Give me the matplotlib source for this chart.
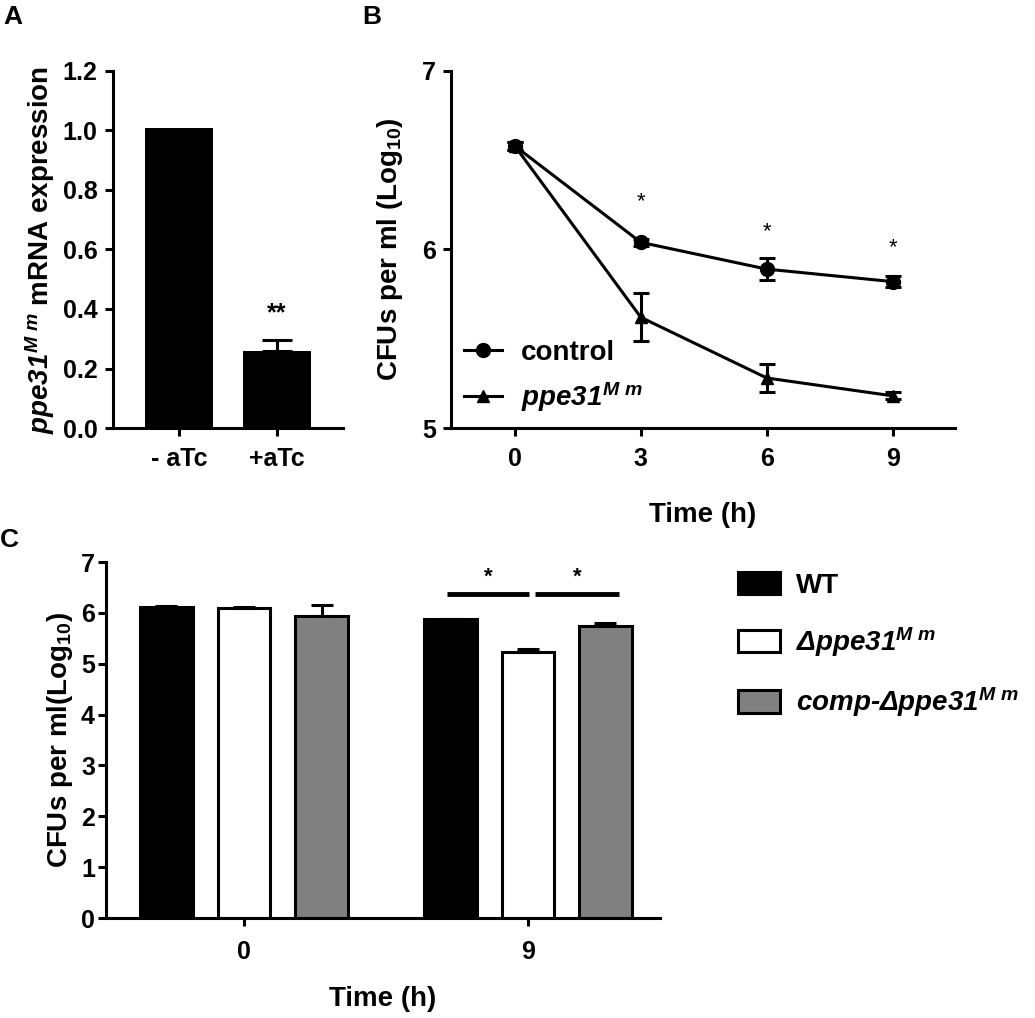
import numpy as np
import matplotlib
matplotlib.use("Agg")
import matplotlib.pyplot as plt
from matplotlib.patches import Patch
from matplotlib.lines import Line2D

plt.rcParams["font.family"] = ["Liberation Sans", "DejaVu Sans"]
plt.rcParams["font.weight"] = "bold"
plt.rcParams["mathtext.fontset"] = "custom"
plt.rcParams["mathtext.rm"] = "Liberation Sans:bold"
plt.rcParams["mathtext.it"] = "Liberation Sans:italic:bold"
plt.rcParams["mathtext.sf"] = "Liberation Sans:italic:bold"
plt.rcParams["mathtext.bf"] = "Liberation Sans:bold"
plt.rcParams["axes.linewidth"] = 2.2
plt.rcParams["xtick.major.width"] = 2.2
plt.rcParams["ytick.major.width"] = 2.2
plt.rcParams["xtick.major.size"] = 6
plt.rcParams["ytick.major.size"] = 6

# --- panel A data ---
a_labels = ["- aTc", "+aTc"]
a_values = [1.01, 0.26]
a_errors = [0.0, 0.035]
a_yticks = [0.0, 0.2, 0.4, 0.6, 0.8, 1.0, 1.2]

# --- panel B data ---
b_time = [0, 3, 6, 9]
b_control = [6.58, 6.04, 5.89, 5.82]
b_control_err = [0.02, 0.02, 0.06, 0.03]
b_ppe = [6.58, 5.62, 5.28, 5.18]
b_ppe_err = [0.02, 0.135, 0.08, 0.02]
b_star_time = [3, 6, 9]
b_star_y = [6.27, 6.10, 6.01]

# --- panel C data ---
c_groups = ["0", "9"]
c_wt = [6.11, 5.87]
c_wt_err = [0.02, 0.01]
c_del = [6.09, 5.23]
c_del_err = [0.03, 0.05]
c_comp = [5.93, 5.74]
c_comp_err = [0.22, 0.06]
c_sig_lines = [(0.715, 1.005), (1.025, 1.32)]
c_sig_y = 6.37

SUP = r"^{M\ m}"
PPE = r"$\mathsf{ppe31}" + SUP + "$"
DEL = r"$\mathsf{\Delta ppe31}" + SUP + "$"
COMP = r"$\mathsf{comp" + "\u2010" + r"\Delta ppe31}" + SUP + "$"

fig = plt.figure(figsize=(10.35, 10.18), dpi=100)


def style(ax, fs):
    for s in ["top", "right"]:
        ax.spines[s].set_visible(False)
    ax.tick_params(labelsize=fs, direction="out", pad=5)
    for lab in ax.get_xticklabels() + ax.get_yticklabels():
        lab.set_fontweight("bold")


# Panel A
axA = fig.add_axes([113/1035, 1-428/1018, 230/1035, 357/1018])
xa = np.arange(len(a_labels))
axA.bar(xa, a_values, width=0.7, color="black")
axA.errorbar(xa[1], a_values[1], yerr=[[0], [a_errors[1]]], fmt="none",
             ecolor="black", elinewidth=2.2, capsize=11, capthick=2.2)
axA.text(xa[1], 0.345, "**", ha="center", va="bottom", fontsize=18, fontweight="bold")
axA.set_xlim(-0.673, 1.673)
axA.set_ylim(0, 1.2)
axA.set_yticks(a_yticks)
axA.set_yticklabels([f"{v:.1f}" for v in a_yticks])
axA.set_xticks(xa)
axA.set_xticklabels(a_labels)
axA.set_ylabel(PPE + " mRNA expression", fontsize=20, fontweight="bold", labelpad=4)
style(axA, 18)
axA.tick_params(axis="x", pad=8)

# Panel B
axB = fig.add_axes([451/1035, 1-428/1018, 504/1035, 357/1018])
axB.errorbar(b_time, b_control, yerr=b_control_err, color="black", marker="o",
             markersize=10, linewidth=2.2, elinewidth=2.2, capsize=6, capthick=2.2)
axB.errorbar(b_time, b_ppe, yerr=b_ppe_err, color="black", marker="^",
             markersize=9, linewidth=2.2, elinewidth=2.2, capsize=6, capthick=2.2)
for t, y in zip(b_star_time, b_star_y):
    axB.text(t, y, "*", ha="center", va="center", fontsize=16, fontweight="normal")
axB.set_xlim(-1.52, 10.48)
axB.set_ylim(5, 7)
axB.set_yticks([5, 6, 7])
axB.set_xticks(b_time)
axB.set_xlabel("Time (h)", fontsize=20, fontweight="bold", labelpad=22)
axB.set_ylabel(r"CFUs per ml (Log$_{10}$)", fontsize=20, fontweight="bold", labelpad=12)
hB = [Line2D([], [], color="black", marker="o", markersize=10, linewidth=2.2),
      Line2D([], [], color="black", marker="^", markersize=9, linewidth=2.2)]
fig.legend(hB, ["control", PPE], loc="upper left",
           bbox_to_anchor=(464/1035, 1-340/1018), frameon=False,
           handlelength=1.35, handletextpad=0.7, labelspacing=0.5,
           borderpad=0, borderaxespad=0, prop={"weight": "bold", "size": 20})
style(axB, 18)
axB.tick_params(axis="x", pad=8)

# Panel C
axC = fig.add_axes([106/1035, 1-918/1018, 554/1035, 356/1018])
xc = np.arange(len(c_groups))
off = 0.273
w = 0.185
kw = dict(width=w, edgecolor="black", linewidth=2.2)
axC.bar(xc - off, c_wt, color="black", **kw)
axC.bar(xc, c_del, color="white", **kw)
axC.bar(xc + off, c_comp, color="#808080", **kw)
for pos, vals, errs in [(xc - off, c_wt, c_wt_err), (xc, c_del, c_del_err),
                        (xc + off, c_comp, c_comp_err)]:
    axC.errorbar(pos, vals, yerr=[np.zeros(len(errs)), errs], fmt="none",
                 ecolor="black", elinewidth=2.2, capsize=8, capthick=2.2)
for x0, x1 in c_sig_lines:
    axC.plot([x0, x1], [c_sig_y, c_sig_y], color="black", linewidth=3.5,
             solid_capstyle="butt")
    axC.text((x0 + x1) / 2, c_sig_y + 0.12, "*", ha="center", va="bottom",
             fontsize=16, fontweight="bold")
axC.set_xlim(-0.486, 1.465)
axC.set_ylim(0, 7)
axC.set_yticks(range(8))
axC.set_xticks(xc)
axC.set_xticklabels(c_groups)
axC.set_xlabel("Time (h)", fontsize=20, fontweight="bold", labelpad=16)
axC.set_ylabel(r"CFUs per ml(Log$_{10}$)", fontsize=20, fontweight="bold", labelpad=4)
style(axC, 18)
axC.tick_params(axis="x", pad=10)
axC.tick_params(axis="y", pad=2)
hC = [Patch(facecolor="black", edgecolor="black", linewidth=2.2),
      Patch(facecolor="white", edgecolor="black", linewidth=2.2),
      Patch(facecolor="#808080", edgecolor="black", linewidth=2.2)]
fig.legend(hC, ["WT", DEL, COMP],
           loc="upper left", bbox_to_anchor=(738/1035, 1-572/1018), frameon=False,
           handlelength=1.5, handleheight=0.85, handletextpad=0.6, labelspacing=0.95,
           borderpad=0, borderaxespad=0, prop={"weight": "bold", "size": 20})

# panel letters
fig.text(3/1035, 1-17/1018, "A", fontsize=19, fontweight="bold", va="center")
fig.text(362/1035, 1-17/1018, "B", fontsize=19, fontweight="bold", va="center")
fig.text(0/1035, 1-540/1018, "C", fontsize=19, fontweight="bold", va="center")

fig.savefig("out.png", dpi=100)
